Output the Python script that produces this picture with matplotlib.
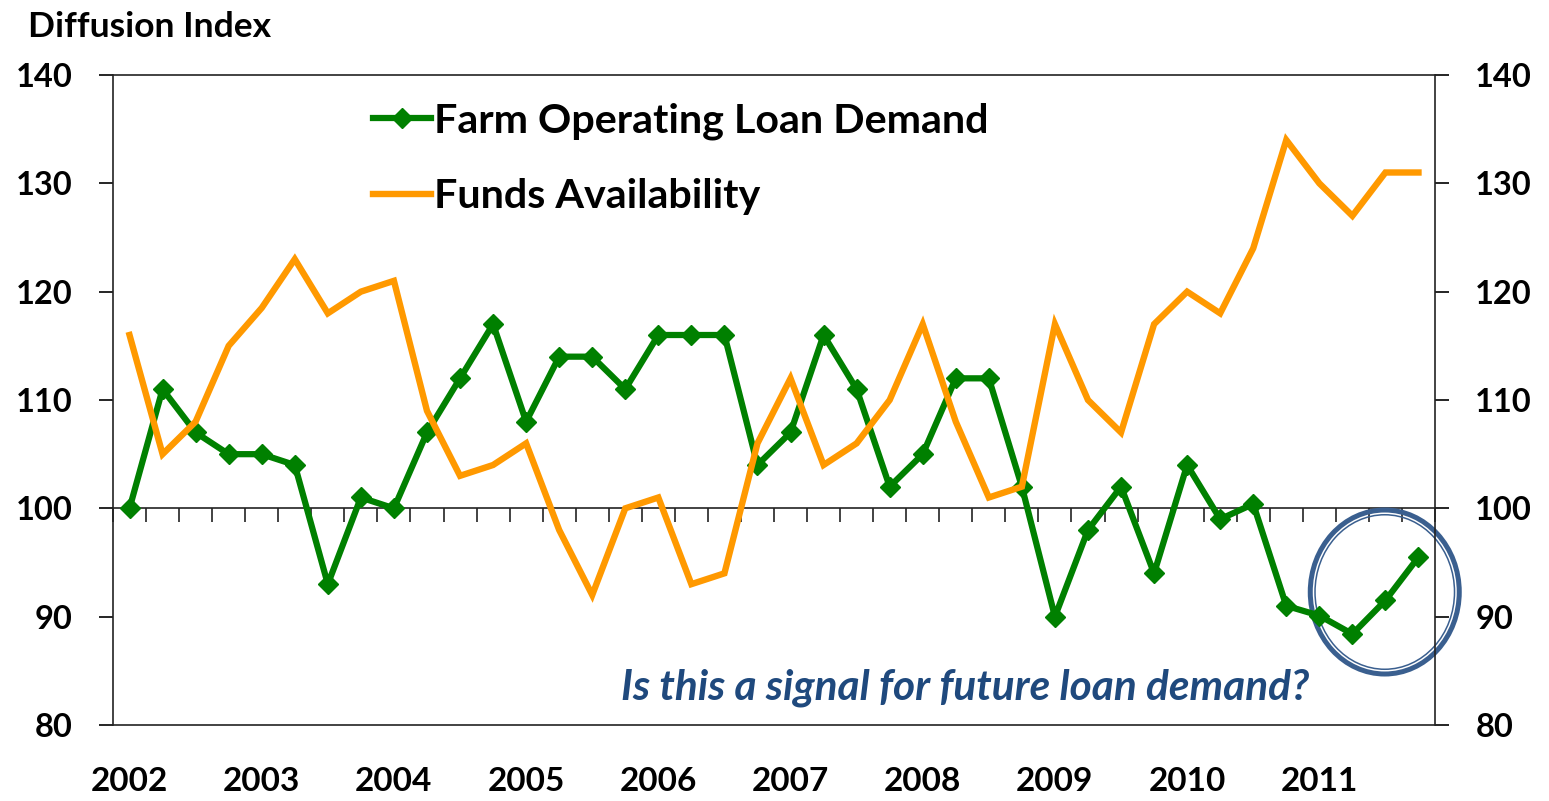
import numpy as np
import matplotlib.pyplot as plt
from matplotlib.patches import Ellipse

# quarterly data 2002Q1 - 2011Q4
years = ['2002', '2003', '2004', '2005', '2006', '2007', '2008', '2009', '2010', '2011']

loan_demand = [100, 111, 107, 105, 105, 104, 93, 101, 100, 107,
               112, 117, 108, 114, 114, 111, 116, 116, 116, 104,
               107, 116, 111, 102, 105, 112, 112, 102, 90, 98,
               102, 94, 104, 99, 100.4, 91, 90.1, 88.4, 91.5, 95.5]

funds_avail = [116, 105, 108, 115, 118.5, 123, 118, 120, 121, 109,
               103, 104, 106, 98, 92, 100, 101, 93, 94, 106,
               112, 104, 106, 110, 117, 108, 101, 102, 117, 110,
               107, 117, 120, 118, 124, 134, 130, 127, 131, 131]

plt.rcParams['font.family'] = ['Lato', 'DejaVu Sans']

green = '#008000'
orange = '#FF9900'
navy = '#1F497D'

x = np.arange(len(loan_demand))

fig = plt.figure(figsize=(15.49, 8.01), dpi=100)
ax = fig.add_axes([113/1549, 76/801, 1322/1549, 650/801])

ax.plot(x, loan_demand, color=green, lw=4.5, marker='D', ms=10,
        solid_joinstyle='miter', label='Farm Operating Loan Demand')
ax.plot(x, funds_avail, color=orange, lw=4.6, solid_joinstyle='miter',
        label='Funds Availability')

ax.set_xlim(-0.5, len(x) - 0.5)
ax.set_ylim(80, 140)
ax.set_yticks(range(80, 141, 10))

# year labels under the plot
ax.set_xticks(x[::4])
ax.set_xticklabels(years, fontsize=24, fontweight='bold')
ax.tick_params(axis='x', length=0, pad=30)

ax.tick_params(axis='y', which='both', direction='out', length=10, width=1.2,
               labelsize=23.5, pad=19, right=True, labelright=True)
for t in ax.yaxis.get_major_ticks():
    t.label1.set_fontweight('bold')
    t.label2.set_fontweight('bold')

for s in ax.spines.values():
    s.set_linewidth(1.2)
    s.set_color('#222222')

# category axis crossing at 100
sec = ax.secondary_xaxis(1/3)
sec.set_xticks(np.arange(-0.5, len(x), 1.0))
sec.set_xticklabels([])
sec.tick_params(direction='out', length=10, width=1.2, color='#222222')
sec.spines['bottom'].set_linewidth(1.2)
sec.spines['bottom'].set_color('#222222')

leg = ax.legend(loc='upper left', bbox_to_anchor=(0.197, 0.958), frameon=False,
                prop={'family': 'Lato', 'weight': 'bold', 'size': 29.7},
                handlelength=1.39, handletextpad=0.07, labelspacing=0.93,
                borderpad=0, borderaxespad=0)

ax.text(0.6445, 0.057, 'Is this a signal for future loan demand?',
        transform=ax.transAxes, ha='center', va='center', fontsize=30.5,
        fontweight='bold', fontstyle='italic', color=navy)

# highlight circle (double line)
ring = '#3A5F8F'
ax.add_patch(Ellipse((0.962, 0.2046), 149/1322, 164/650, transform=ax.transAxes,
                     fill=False, ec=ring, lw=3.6, clip_on=False))
ax.add_patch(Ellipse((0.962, 0.2046), 139.5/1322, 154.5/650, transform=ax.transAxes,
                     fill=False, ec=ring, lw=1.1, clip_on=False))

fig.text(28/1549, 1 - 37/801, 'Diffusion Index', fontsize=25.5, fontweight='bold',
         va='baseline', ha='left')

fig.savefig('out.png', dpi=100)
